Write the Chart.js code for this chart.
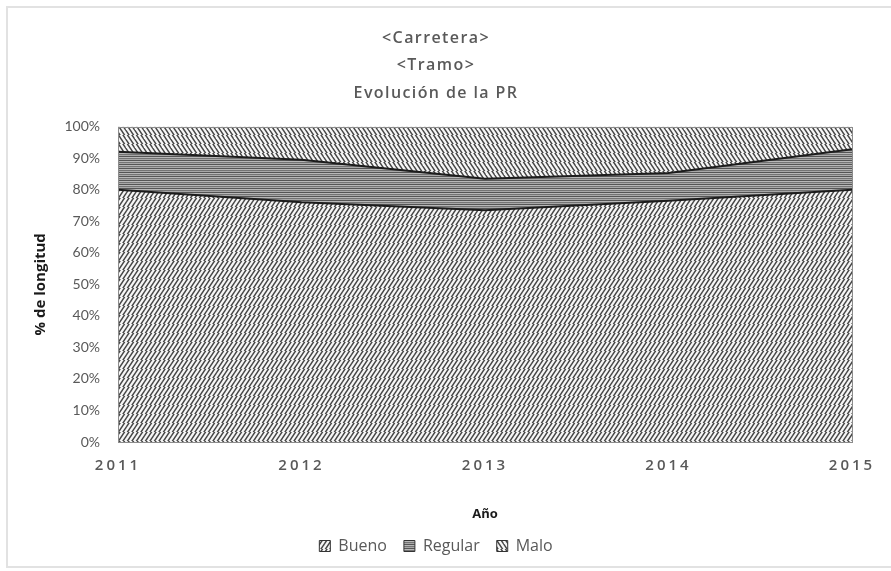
<!DOCTYPE html>
<html>
<head>
<meta charset="utf-8">
<script src="https://cdn.jsdelivr.net/npm/chart.js@4.4.1/dist/chart.umd.min.js"></script>
<style>
html,body{margin:0;padding:0;background:#fff;}
#wrap{position:relative;width:891px;height:571px;overflow:hidden;}
#frame{position:absolute;left:6px;top:6px;width:900px;height:562px;border:2px solid #e2e2e2;box-sizing:border-box;pointer-events:none;}
canvas{position:absolute;left:0;top:0;}
</style>
</head>
<body>
<div id="wrap"><canvas id="c" width="891" height="571"></canvas><div id="frame"></div></div>
<script>
// ---- data ----
const titleLines = ['<Carretera>', '<Tramo>', 'Evolución de la PR'];
const years = ['2011', '2012', '2013', '2014', '2015'];
const seriesNames = ['Bueno', 'Regular', 'Malo'];
const bueno = [80, 76, 73.5, 76.5, 80];
const regular = [12, 13.5, 10, 8.8, 12.8];
const malo = [8, 10.5, 16.5, 14.7, 7.2];
const yTicks = [0, 10, 20, 30, 40, 50, 60, 70, 80, 90, 100];

// letter spacing for title and x tick labels
const spaced = new Set([...titleLines, ...years]);
const origFill = CanvasRenderingContext2D.prototype.fillText;
CanvasRenderingContext2D.prototype.fillText = function (t, x, y, w) {
  if (spaced.has(String(t))) {
    const prev = this.letterSpacing;
    this.letterSpacing = titleLines.includes(String(t)) ? '1.4px' : '3px';
    if (w === undefined) origFill.call(this, t, x, y); else origFill.call(this, t, x, y, w);
    this.letterSpacing = prev;
  } else {
    if (w === undefined) origFill.call(this, t, x, y); else origFill.call(this, t, x, y, w);
  }
};

function diagPattern(dir) {
  const s = 9, c = document.createElement('canvas');
  c.width = s; c.height = s;
  const g = c.getContext('2d');
  g.fillStyle = '#f6f6f6'; g.fillRect(0, 0, s, s);
  g.strokeStyle = '#454545'; g.lineWidth = 1.5;
  for (let k = -2; k <= 6; k++) {
    const off = k * 4.5;
    g.beginPath();
    if (dir > 0) { g.moveTo(off - s, s + s); g.lineTo(off + s, 0 - s); }
    else { g.moveTo(off - s, -s); g.lineTo(off + s, s + s); }
    g.stroke();
  }
  return g.createPattern(c, 'repeat');
}
function horizPattern() {
  const c = document.createElement('canvas');
  c.width = 4; c.height = 4;
  const g = c.getContext('2d');
  const rows = ['#555555', '#b8b8b8', '#747474', '#a8a8a8'];
  rows.forEach((col, i) => { g.fillStyle = col; g.fillRect(0, i, 4, 1); });
  return g.createPattern(c, 'repeat');
}
const ctx = document.getElementById('c').getContext('2d');
const pBueno = diagPattern(1), pRegular = horizPattern(), pMalo = diagPattern(-1);

const framePlugin = {
  id: 'frame',
  afterDatasetsDraw(chart) {
    const a = chart.chartArea, g = chart.ctx;
    g.save();
    g.strokeStyle = '#8c8c8c'; g.lineWidth = 1;
    g.strokeRect(Math.round(a.left) + 0.5, Math.round(a.top) + 0.5, Math.round(a.right - a.left), Math.round(a.bottom - a.top));
    g.restore();
  }
};

new Chart(ctx, {
  type: 'line',
  data: {
    labels: years,
    datasets: [
      { label: seriesNames[0], data: bueno, backgroundColor: pBueno, borderColor: '#1c1c1c', borderWidth: 2, fill: 'origin', pointRadius: 0, tension: 0 },
      { label: seriesNames[1], data: regular, backgroundColor: pRegular, borderColor: '#1c1c1c', borderWidth: 2, fill: '-1', pointRadius: 0, tension: 0 },
      { label: seriesNames[2], data: malo, backgroundColor: pMalo, borderColor: 'rgba(0,0,0,0)', borderWidth: 0, fill: '-1', pointRadius: 0, tension: 0 }
    ]
  },
  options: {
    responsive: false,
    animation: false,
    devicePixelRatio: 1,
    layout: { padding: { left: 20, right: 39, top: 0, bottom: 7 } },
    plugins: {
      tooltip: { enabled: false },
      title: {
        display: true,
        text: titleLines,
        color: '#595959',
        font: { family: 'Open Sans', size: 16, weight: '600', lineHeight: 1.7 },
        padding: { top: 25, bottom: 20 }
      },
      legend: {
        position: 'bottom',
        labels: {
          color: '#595959',
          font: { family: 'Open Sans', size: 16 },
          boxWidth: 11, boxHeight: 11,
          padding: 17,
          generateLabels(chart) {
            const items = Chart.defaults.plugins.legend.labels.generateLabels(chart);
            items.forEach(it => { it.strokeStyle = '#333333'; it.lineWidth = 1; });
            return items;
          }
        }
      }
    },
    scales: {
      x: {
        type: 'category',
        offset: false,
        grid: { display: false, drawTicks: false },
        border: { display: false },
        ticks: { color: '#595959', font: { family: 'Open Sans', size: 15, weight: '600' }, padding: 15, maxRotation: 0, autoSkip: false },
        title: { display: true, text: 'Año', color: '#1a1a1a', font: { family: 'Open Sans', size: 13, weight: 'bold' }, padding: { top: 0, bottom: -1 } },
        afterFit(s) { s.height = 79; }
      },
      y: {
        stacked: true,
        min: 0, max: 100,
        grid: { display: false, drawTicks: false },
        border: { display: false },
        afterBuildTicks(s) { s.ticks = yTicks.map(v => ({ value: v })); },
        ticks: { color: '#595959', font: { family: 'Lato', size: 14 }, padding: 18, callback: v => v + '%' },
        title: { display: true, text: '% de longitud', color: '#1a1a1a', font: { family: 'Open Sans', size: 15, weight: 'bold' }, padding: { top: 12, bottom: 0 } },
        afterFit(s) { s.width = 98; }
      }
    }
  },
  plugins: [framePlugin]
});
</script>
</body>
</html>
